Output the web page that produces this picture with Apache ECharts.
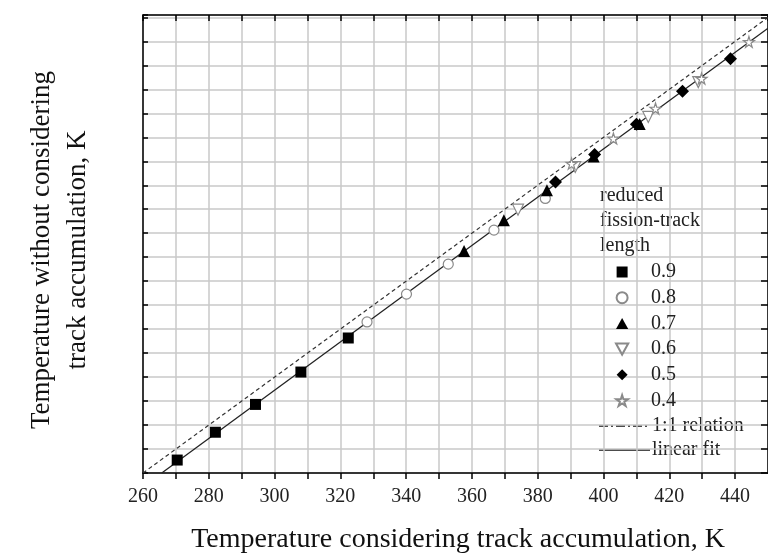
<!DOCTYPE html>
<html>
<head>
<meta charset="utf-8">
<script src="https://cdn.jsdelivr.net/npm/echarts@6/dist/echarts.min.js"></script>
<style>
html,body{margin:0;padding:0;background:#fff;}
#c{width:768px;height:559px;}
</style>
</head>
<body>
<div id="c"></div>
<script>
// ---- data ----
const xTicks = [260, 280, 300, 320, 340, 360, 380, 400, 420, 440];
const seriesNames = ['0.9', '0.8', '0.7', '0.6', '0.5', '0.4'];
const lineNames = ['1:1 relation', 'linear fit'];
const r09x = [270.4, 282.0, 294.2, 308.0, 322.4];
const r09y = [265.4, 277.0, 288.6, 302.1, 316.3];
const r08x = [328.1, 340.1, 352.8, 366.7, 382.3];
const r08y = [323.0, 334.6, 347.1, 361.3, 374.5];
const r07x = [357.6, 369.7, 382.8, 397.0, 411.0];
const r07y = [352.6, 365.4, 377.9, 392.0, 405.5];
const r06x = [374.0, 391.4, 413.6, 428.8];
const r06y = [369.8, 387.6, 408.5, 423.0];
const r05x = [385.4, 397.3, 410.0, 424.0, 438.6];
const r05y = [381.4, 392.8, 405.4, 419.2, 432.8];
const r04x = [390.3, 403.0, 415.8, 429.8, 444.2];
const r04y = [389.0, 399.5, 412.0, 424.5, 439.8];
const oneToOneX = [260, 450];
const oneToOneY = [260, 450];
const fitX = [265.7, 450];
const fitY = [260, 445.5];

const zip = (xs, ys) => xs.map((x, i) => [x, ys[i]]);
const FONT = 'Liberation Serif';
const STAR = 'path://M50,0 L61,35 L98,35 L68,57 L79,91 L50,70 L21,91 L32,57 L2,35 L39,35 Z';
const SQUARE = 'path://M0,0 L10,0 L10,10 L0,10 Z';
const TRI_UP = 'path://M5,0 L10,9 L0,9 Z';
const TRI_DOWN = 'path://M0,0 L10,0 L5,9 Z';
const DIAMOND = 'path://M5,0 L10,5 L5,10 L0,5 Z';

const filled = { color: '#000', borderWidth: 0, opacity: 1 };
const hollow = { color: '#fff', borderColor: '#8a8a8a', borderWidth: 1.2, opacity: 1 };

const chart = echarts.init(document.getElementById('c'), null, { renderer: 'canvas' });

const gridLine = { show: true, lineStyle: { color: '#c8c8c8', width: 1.5 } };
const axLine = { show: true, lineStyle: { color: '#000', width: 1.5 } };

chart.setOption({
  animation: false,
  backgroundColor: '#fff',
  grid: { left: 143, right: 0, top: 15, bottom: 86, containLabel: false },
  xAxis: [
    {
      type: 'value', position: 'bottom', min: 260, max: 450, interval: 10,
      axisLine: axLine,
      axisTick: { show: true, inside: false, length: 6, lineStyle: { color: '#000', width: 1.5 } },
      axisLabel: {
        show: true, margin: 14, fontFamily: FONT, fontSize: 20, color: '#222',
        showMaxLabel: false,
        formatter: v => (xTicks.indexOf(v) >= 0 ? String(v) : '')
      },
      splitLine: gridLine
    },
    {
      type: 'value', position: 'top', min: 260, max: 450, interval: 10,
      axisLine: axLine,
      axisTick: { show: true, inside: true, length: 6, lineStyle: { color: '#000', width: 1.5 } },
      axisLabel: { show: false },
      splitLine: { show: false }
    }
  ],
  yAxis: [
    {
      type: 'value', position: 'right', min: 260, max: 451, interval: 10,
      axisLine: axLine,
      axisTick: { show: true, inside: true, length: 7, lineStyle: { color: '#000', width: 1.5 } },
      axisLabel: { show: false },
      splitLine: gridLine
    },
    {
      type: 'value', position: 'left', min: 260, max: 451, interval: 10,
      axisLine: axLine,
      axisTick: { show: true, inside: true, length: 5, lineStyle: { color: '#000', width: 1.5 } },
      axisLabel: { show: false },
      splitLine: { show: false }
    }
  ],
  legend: {
    orient: 'vertical',
    left: 610, top: 257,
    itemWidth: 48, itemHeight: 11, itemGap: 5.7,
    symbolKeepAspect: true,
    textStyle: { fontFamily: FONT, fontSize: 20, color: '#222', lineHeight: 20 },
    data: seriesNames,
    selectedMode: false
  },
  graphic: [
    {
      type: 'text', left: 600, top: 183,
      style: { text: 'reduced\nfission-track\nlength', font: '20px "Liberation Serif"', fill: '#222', lineHeight: 25 }
    },
    {
      type: 'line', shape: { x1: 599, y1: 426, x2: 650, y2: 426 },
      style: { stroke: '#111', lineWidth: 1.4, lineDash: [9, 3, 2, 3] }
    },
    {
      type: 'text', x: 652, y: 426,
      style: { text: lineNames[0], font: '20px "Liberation Serif"', fill: '#222', verticalAlign: 'middle' }
    },
    {
      type: 'line', shape: { x1: 599, y1: 450, x2: 650, y2: 450 },
      style: { stroke: '#111', lineWidth: 1.4 }
    },
    {
      type: 'text', x: 652, y: 450,
      style: { text: lineNames[1], font: '20px "Liberation Serif"', fill: '#222', verticalAlign: 'middle' }
    },
    {
      type: 'text', x: 458, y: 540,
      style: { text: 'Temperature considering track accumulation, K', font: '28px "Liberation Serif"', fill: '#111', align: 'center', verticalAlign: 'middle' }
    },
    {
      type: 'text', x: 42, y: 250, rotation: Math.PI / 2,
      style: { text: 'Temperature without considering', font: '27px "Liberation Serif"', fill: '#111', align: 'center', verticalAlign: 'middle' }
    },
    {
      type: 'text', x: 78, y: 250, rotation: Math.PI / 2,
      style: { text: 'track accumulation, K', font: '27px "Liberation Serif"', fill: '#111', align: 'center', verticalAlign: 'middle' }
    }
  ],
  series: [
    {
      name: lineNames[0], type: 'line', data: zip(oneToOneX, oneToOneY), symbol: 'none', z: 2,
      lineStyle: { color: '#333', width: 1.2, type: [4, 3] }, itemStyle: { color: '#333' }
    },
    {
      name: lineNames[1], type: 'line', data: zip(fitX, fitY), symbol: 'none', z: 2,
      lineStyle: { color: '#222', width: 1.3, type: 'solid' }, itemStyle: { color: '#222' }
    },
    { name: '0.9', type: 'scatter', data: zip(r09x, r09y), symbol: SQUARE, symbolSize: 11, itemStyle: filled, z: 5 },
    { name: '0.8', type: 'scatter', data: zip(r08x, r08y), symbol: 'circle', symbolSize: 10, itemStyle: hollow, z: 4 },
    { name: '0.7', type: 'scatter', data: zip(r07x, r07y), symbol: TRI_UP, symbolSize: 12, itemStyle: filled, z: 5 },
    { name: '0.6', type: 'scatter', data: zip(r06x, r06y), symbol: TRI_DOWN, symbolSize: 11, itemStyle: hollow, z: 4 },
    { name: '0.5', type: 'scatter', data: zip(r05x, r05y), symbol: DIAMOND, symbolSize: 13, itemStyle: filled, z: 5 },
    { name: '0.4', type: 'scatter', data: zip(r04x, r04y), symbol: STAR, symbolSize: 11, itemStyle: hollow, z: 4 }
  ]
});
</script>
</body>
</html>
